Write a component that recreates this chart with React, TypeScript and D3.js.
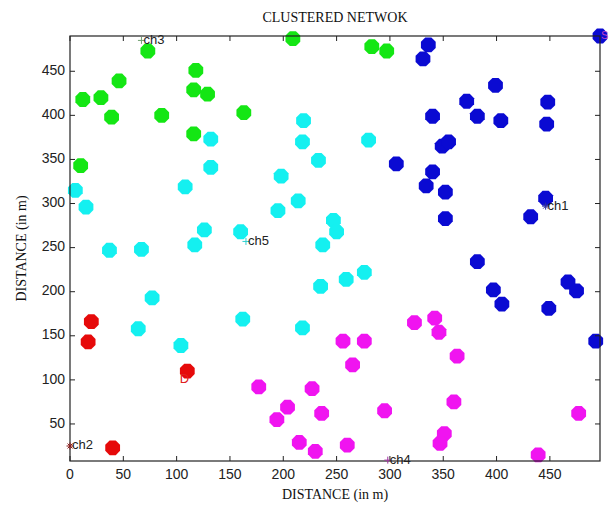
import React from 'react';
import * as d3 from 'd3';

// node positions per cluster, in metres
const greenX = [10, 12, 29, 39, 46, 73, 86, 118, 116, 129, 116, 163, 209, 283, 297];
const greenY = [343, 418, 420, 398, 439, 473, 400, 451, 429, 424, 379, 403, 487, 478, 473];

const cyanX = [5, 15, 37, 67, 77, 64, 104, 108, 117, 126, 132, 132, 160, 162, 219, 218, 233, 198, 195, 214, 247, 250, 237, 276, 259, 235, 218, 280];
const cyanY = [315, 296, 247, 248, 193, 158, 139, 319, 253, 270, 341, 373, 268, 169, 394, 370, 349, 331, 292, 303, 281, 268, 253, 222, 214, 206, 159, 372];

const blueX = [306, 334, 340, 349, 355, 352, 352, 340, 336, 331, 372, 399, 382, 404, 448, 447, 432, 446, 382, 397, 405, 449, 467, 475, 493, 497];
const blueY = [345, 320, 336, 365, 370, 313, 283, 399, 480, 464, 416, 434, 399, 394, 415, 390, 285, 306, 234, 202, 186, 181, 211, 201, 144, 490];

const magentaX = [177, 227, 204, 194, 236, 295, 360, 477, 351, 347, 215, 230, 260, 439, 256, 276, 323, 342, 346, 363, 265];
const magentaY = [92, 90, 69, 55, 62, 65, 75, 62, 39, 28, 29, 19, 26, 15, 144, 144, 165, 170, 154, 127, 117];

const redX = [20, 17, 110, 40];
const redY = [166, 143, 110, 23];

// cluster heads
const chNames = ['ch1', 'ch2', 'ch3', 'ch4', 'ch5'];
const chX = [446, 0, 67, 298, 165];
const chY = [297, 25, 485, 9, 257];
const chMarks = ['*', '*', '+', '+', '+'];
const chColors = ['#3030a0', '#8b1a1a', '#70a070', '#a030a0', '#30d0d0'];

const sinkX = 103;
const sinkY = 100;

const xTicks = [0, 50, 100, 150, 200, 250, 300, 350, 400, 450];
const yTicks = [50, 100, 150, 200, 250, 300, 350, 400, 450];

const groups = [
  { xs: greenX, ys: greenY, color: '#14e614' },
  { xs: cyanX, ys: cyanY, color: '#14f0f0' },
  { xs: blueX, ys: blueY, color: '#0a0ad2' },
  { xs: magentaX, ys: magentaY, color: '#f014f0' },
  { xs: redX, ys: redY, color: '#e60a0a' },
];

const useD3 = (render: (svg: d3.Selection<SVGSVGElement, unknown, null, undefined>) => void, deps: any[]) => {
  const ref = React.useRef<SVGSVGElement>(null);
  React.useEffect(() => {
    if (ref.current) render(d3.select(ref.current));
  }, deps);
  return ref;
};

const App: React.FC = () => {
  const svgRef = useD3((svg) => {
    svg.selectAll('*').remove();
    const width = 613;
    const height = 509;
    const margin = { left: 70, right: 13, top: 36, bottom: 48 };

    const x = d3.scaleLinear().domain([0, 497]).range([margin.left, width - margin.right]);
    const y = d3.scaleLinear().domain([8, 490]).range([height - margin.bottom, margin.top]);

    svg.append('rect').attr('width', width).attr('height', height).attr('fill', '#fff');

    const r = 8;
    const octagon = d3.lineRadial<number>()
      .angle(a => a)
      .radius(r)
      .curve(d3.curveLinearClosed);
    const octPath = octagon(d3.range(8).map(i => (i + 0.5) * Math.PI / 4)) as string;

    const plot = svg.append('g').attr('class', 'plot-area');
    groups.forEach(g => {
      plot.selectAll(null)
        .data(g.xs.map((v, i) => [v, g.ys[i]]))
        .join('path')
          .attr('d', octPath)
          .attr('transform', d => `translate(${x(d[0])},${y(d[1])})`)
          .attr('fill', g.color);
    });

    // axes box
    const [x0, x1] = x.range();
    const [y0, y1] = y.range();
    svg.append('rect')
      .attr('x', x0).attr('y', y1)
      .attr('width', x1 - x0).attr('height', y0 - y1)
      .attr('fill', 'none').attr('stroke', '#222').attr('stroke-width', 1.2);

    const tickLen = 5;
    const ticks = svg.append('g').attr('stroke', '#222').attr('stroke-width', 1);
    xTicks.forEach(t => {
      ticks.append('line').attr('x1', x(t)).attr('x2', x(t)).attr('y1', y0).attr('y2', y0 - tickLen);
      ticks.append('line').attr('x1', x(t)).attr('x2', x(t)).attr('y1', y1).attr('y2', y1 + tickLen);
    });
    yTicks.forEach(t => {
      ticks.append('line').attr('x1', x0).attr('x2', x0 + tickLen).attr('y1', y(t)).attr('y2', y(t));
      ticks.append('line').attr('x1', x1).attr('x2', x1 - tickLen).attr('y1', y(t)).attr('y2', y(t));
    });

    const tickFont = '"Liberation Sans", Arial, sans-serif';
    svg.append('g').selectAll('text')
      .data(xTicks)
      .join('text')
        .attr('x', d => x(d))
        .attr('y', y0 + 14)
        .attr('text-anchor', 'middle')
        .attr('dominant-baseline', 'middle')
        .attr('font-family', tickFont)
        .attr('font-size', 14)
        .attr('fill', '#222')
        .text(d => d);
    svg.append('g').selectAll('text')
      .data(yTicks)
      .join('text')
        .attr('x', x0 - 5)
        .attr('y', d => y(d))
        .attr('text-anchor', 'end')
        .attr('dominant-baseline', 'middle')
        .attr('font-family', tickFont)
        .attr('font-size', 14)
        .attr('fill', '#222')
        .text(d => d);

    const serif = '"Liberation Serif", "Times New Roman", serif';
    svg.append('text')
      .attr('x', (x0 + x1) / 2).attr('y', 19)
      .attr('text-anchor', 'middle').attr('dominant-baseline', 'middle')
      .attr('font-family', serif).attr('font-size', 14).attr('fill', '#111')
      .text('CLUSTERED NETWOK');
    svg.append('text')
      .attr('x', (x0 + x1) / 2).attr('y', 496)
      .attr('text-anchor', 'middle').attr('dominant-baseline', 'middle')
      .attr('font-family', serif).attr('font-size', 14).attr('fill', '#111')
      .text('DISTANCE (in m)');
    svg.append('text')
      .attr('transform', `translate(23,${(y0 + y1) / 2}) rotate(-90)`)
      .attr('text-anchor', 'middle').attr('dominant-baseline', 'middle')
      .attr('font-family', serif).attr('font-size', 14).attr('fill', '#111')
      .text('DISTANCE (in m)');

    // cluster heads
    const heads = svg.append('g');
    chNames.forEach((name, i) => {
      const cx = x(chX[i]);
      const cy = y(chY[i]);
      const g = heads.append('g').attr('stroke', chColors[i]).attr('stroke-width', 1);
      const s = 3.5;
      g.append('line').attr('x1', cx - s).attr('x2', cx + s).attr('y1', cy).attr('y2', cy);
      g.append('line').attr('x1', cx).attr('x2', cx).attr('y1', cy - s).attr('y2', cy + s);
      if (chMarks[i] === '*') {
        g.append('line').attr('x1', cx - s * 0.7).attr('x2', cx + s * 0.7).attr('y1', cy - s * 0.7).attr('y2', cy + s * 0.7);
        g.append('line').attr('x1', cx - s * 0.7).attr('x2', cx + s * 0.7).attr('y1', cy + s * 0.7).attr('y2', cy - s * 0.7);
      }
      heads.append('text')
        .attr('x', cx + 2).attr('y', cy)
        .attr('dominant-baseline', 'middle')
        .attr('font-family', tickFont).attr('font-size', 13).attr('fill', '#222')
        .text(name);
    });

    svg.append('text')
      .attr('x', x(sinkX)).attr('y', y(sinkY))
      .attr('dominant-baseline', 'middle')
      .attr('font-family', tickFont).attr('font-size', 13).attr('fill', '#e02020')
      .text('D');

    svg.append('text')
      .attr('x', x(497) + 1).attr('y', y(490))
      .attr('dominant-baseline', 'middle')
      .attr('font-family', tickFont).attr('font-size', 11).attr('fill', '#c040c0')
      .text('S');
  }, []);

  return (
    <svg ref={svgRef} width={613} height={509} style={{ position: 'absolute', left: 0, top: 0 }} />
  );
};

export default App;
